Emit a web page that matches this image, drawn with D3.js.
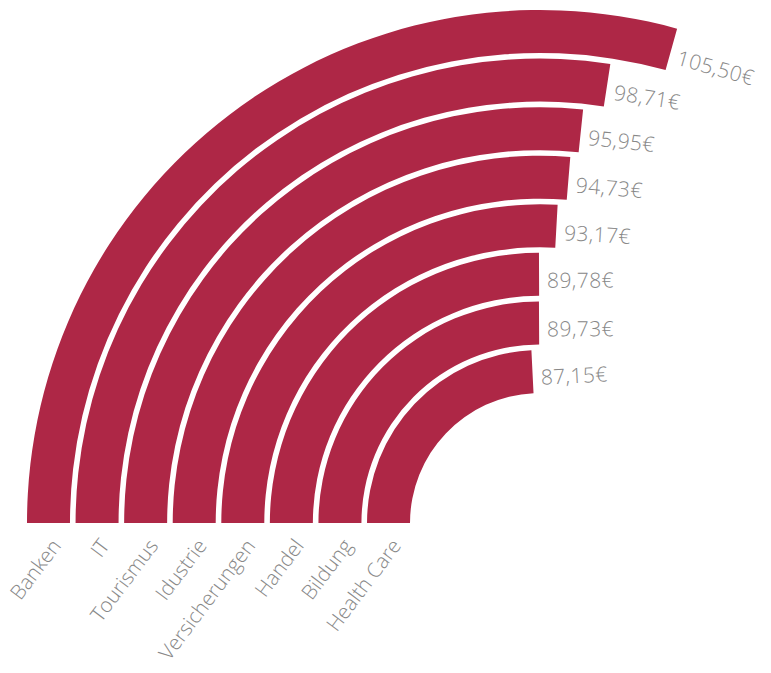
<!DOCTYPE html>
<html>
<head>
<meta charset="utf-8">
<script src="https://cdn.jsdelivr.net/npm/d3@7"></script>
<style>
  body { margin: 0; background: #fff; }
  text { font-family: "Open Sans", Lato, sans-serif; font-weight: 300; fill: #888888; }
</style>
</head>
<body>
<div id="chart"></div>
<script>
var categories = ['Banken', 'IT', 'Tourismus', 'Idustrie', 'Versicherungen', 'Handel', 'Bildung', 'Health Care'];
var values = [105.50, 98.71, 95.95, 94.73, 93.17, 89.78, 89.73, 87.15];
var valueLabels = ['105,50€', '98,71€', '95,95€', '94,73€', '93,17€', '89,78€', '89,73€', '87,15€'];

var w = 771;
var h = 673;
var cx = 540;
var cy = 523;

var svg = d3.select('#chart').append('svg')
  .attr('width', w)
  .attr('height', h);

// radius per category, outermost is Banken
var rScale = d3.scaleBand()
  .domain(categories.slice().reverse())
  .range([130, 513])
  .paddingInner(0.115)
  .paddingOuter(0);

// value in degrees, starting at the left
var aScale = d3.scaleLinear()
  .domain([0, 360])
  .range([0, 2 * Math.PI]);

var arc = d3.arc()
  .innerRadius(function(d) { return rScale(d.c); })
  .outerRadius(function(d) { return rScale(d.c) + rScale.bandwidth(); })
  .startAngle(-Math.PI / 2)
  .endAngle(function(d) { return -Math.PI / 2 + aScale(d.v); });

var data = categories.map(function(c, i) {
  return { c: c, v: values[i], label: valueLabels[i] };
});

var g = svg.append('g')
  .attr('transform', 'translate(' + cx + ',' + cy + ')');

g.selectAll('path.bar')
  .data(data)
  .enter().append('path')
  .attr('class', 'bar')
  .attr('d', arc)
  .attr('fill', '#ae2746');

// value labels at the end of each bar
g.selectAll('text.val')
  .data(data)
  .enter().append('text')
  .attr('class', 'val')
  .attr('transform', function(d) {
    var deg = aScale(d.v) * 180 / Math.PI - 90;
    return 'rotate(' + deg + ') translate(8,' + (-(rScale(d.c) + 8)) + ')';
  })
  .attr('font-size', 21)
  .attr('letter-spacing', 0.4)
  .text(function(d) { return d.label; });

// category labels under the bars
svg.selectAll('text.cat')
  .data(data)
  .enter().append('text')
  .attr('class', 'cat')
  .attr('text-anchor', 'end')
  .attr('font-size', 20.5)
  .attr('transform', function(d) {
    var x = cx - rScale(d.c) - rScale.bandwidth() / 2;
    return 'translate(' + (x + 13.5) + ',' + (cy + 23) + ') rotate(-53)';
  })
  .text(function(d) { return d.c; });
</script>
</body>
</html>
